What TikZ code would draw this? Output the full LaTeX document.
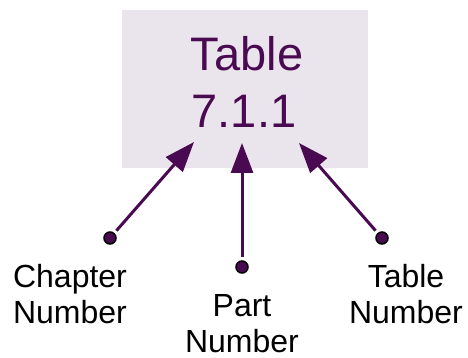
\documentclass[tikz,border=0pt]{standalone}
\usepackage{fontspec}
\setmainfont{Liberation Sans}
\usetikzlibrary{arrows.meta}
\definecolor{boxfill}{HTML}{EAE4EC}
\definecolor{deeppurple}{HTML}{4A0A52}
\tikzset{
  bigtxt/.style={text=deeppurple, font=\fontsize{47}{54}\selectfont, inner sep=0pt, anchor=base},
  lbl/.style={text=black, font=\fontsize{32}{36}\selectfont, inner sep=0pt, align=center, anchor=base},
  pin/.style={circle, fill=deeppurple, draw=black, line width=1.5pt, minimum size=12pt, inner sep=0pt},
  arr/.style={draw=deeppurple, line width=3pt, -{Triangle[length=30pt,width=22pt]}, shorten <=3pt}
}
\begin{document}
\begin{tikzpicture}[x=1pt,y=-1pt]
\useasboundingbox (0,0) rectangle (468,358);
\node[fill=boxfill, minimum width=246pt, minimum height=158pt, inner sep=0pt] (box) at (245,89) {};
\node[bigtxt] (t1) at (247,71) {Table};
\node[bigtxt] (t2) at (244,128) {7.1.1};
\coordinate (tipc) at (194,142);
\coordinate (tipp) at (242,143);
\coordinate (tipt) at (299,143);
\node[pin] (dc) at (110,238) {};
\node[pin] (dp) at (242,267) {};
\node[pin] (dt) at (382,238) {};
\draw[arr] (dc) -- (tipc);
\draw[arr] (dp) -- (tipp);
\draw[arr] (dt) -- (tipt);
\node[lbl] (lc) at (70,323) {Chapter\\Number};
\node[lbl] (lp) at (242,352) {Part\\Number};
\node[lbl] (lt) at (406,323) {Table\\Number};
\end{tikzpicture}
\end{document}
